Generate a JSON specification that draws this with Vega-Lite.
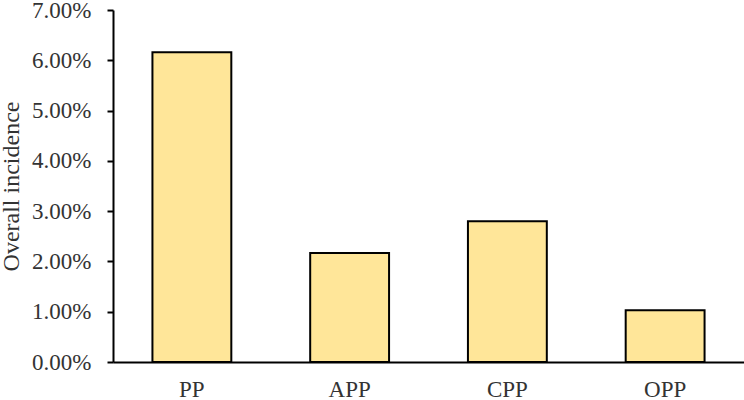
{
  "$schema": "https://vega.github.io/schema/vega-lite/v6.json",
  "width": 631,
  "height": 352,
  "padding": {"left": 113, "top": 10, "right": 0, "bottom": 38},
  "autosize": {"type": "none"},
  "background": "white",
  "config": {"view": {"stroke": null}, "font": "Liberation Serif"},
  "data": {"values": [
    {"type": "PP", "incidence": 0.0616},
    {"type": "APP", "incidence": 0.0217},
    {"type": "CPP", "incidence": 0.0280},
    {"type": "OPP", "incidence": 0.0103}
  ]},
  "mark": {"type": "bar", "fill": "#FFE699", "stroke": "black", "strokeWidth": 2},
  "encoding": {
    "x": {
      "field": "type", "type": "nominal", "sort": null,
      "scale": {"paddingInner": 0.5, "paddingOuter": 0.25},
      "axis": {"title": null, "labelAngle": 0, "labelFontSize": 23, "labelColor": "#333", "labelFont": "Liberation Serif", "ticks": false, "labelPadding": 16, "domainColor": "black", "domainWidth": 2}
    },
    "y": {
      "field": "incidence", "type": "quantitative",
      "scale": {"domain": [0, 0.07]},
      "axis": {"title": "Overall incidence", "titleFontSize": 24, "titleFontWeight": "normal", "titleColor": "#333", "titleFont": "Liberation Serif", "titlePadding": 8, "format": ".2%", "values": [0, 0.01, 0.02, 0.03, 0.04, 0.05, 0.06, 0.07], "labelFontSize": 23, "labelColor": "#333", "labelFont": "Liberation Serif", "labelPadding": 16, "tickSize": 6, "tickColor": "black", "tickWidth": 2, "domainColor": "black", "domainWidth": 2, "grid": false}
    }
  }
}
